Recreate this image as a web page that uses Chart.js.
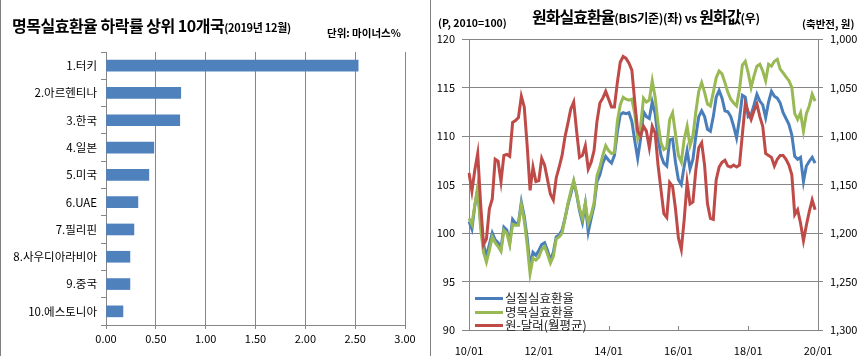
<!DOCTYPE html>
<html><head><meta charset="utf-8">
<script src="https://cdn.jsdelivr.net/npm/chart.js@4.4.1/dist/chart.umd.min.js"></script>
<style>
html,body{margin:0;padding:0;background:#fff;}
body{width:867px;height:356px;position:relative;overflow:hidden;font-family:"Noto Sans CJK KR","Noto Sans",sans-serif;color:#000;}
.abs{position:absolute;white-space:nowrap;}
.big{font-size:16px;font-weight:bold;letter-spacing:-1px;}
.sm{font-size:11px;font-weight:bold;letter-spacing:-0.3px;}
.lg{position:absolute;left:475px;font-size:12.5px;line-height:13px;white-space:nowrap;color:#222;}
.lg i{display:inline-block;width:28px;height:3px;vertical-align:middle;margin-right:2px;position:relative;top:-1px;}
</style></head><body>
<div class="abs" style="left:0;top:0;width:1px;height:356px;background:#808080"></div>
<div class="abs" style="left:430px;top:0;width:1px;height:356px;background:#808080"></div>
<canvas id="left" width="430" height="356" style="position:absolute;left:0;top:0"></canvas>
<canvas id="right" width="435" height="356" style="position:absolute;left:432px;top:0"></canvas>

<div class="abs big" style="left:12px;top:14px;line-height:22px;letter-spacing:-0.5px;">명목실효환율 하락률 상위 10개국<span class="sm">(2019년 12월)</span></div>
<div class="abs" style="left:327px;top:26px;font-size:10.5px;font-weight:bold;line-height:14px;">단위: 마이너스%</div>

<div class="abs big" style="left:532px;top:5px;line-height:22px;">원화실효환율<span class="sm" style="font-size:12px">(BIS기준)(좌) vs </span>원화값<span class="sm" style="font-size:12px">(우)</span></div>
<div class="abs" style="left:438px;top:16px;font-size:10.5px;font-weight:bold;line-height:14px;">(P, 2010=100)</div>
<div class="abs" style="left:802px;top:17px;font-size:10.5px;font-weight:bold;line-height:14px;">(축반전, 원)</div>

<div class="lg" style="top:291px"><i style="background:#4A7EBB"></i>실질실효환율</div>
<div class="lg" style="top:304.5px"><i style="background:#98B954"></i>명목실효환율</div>
<div class="lg" style="top:318px"><i style="background:#BE4B48"></i>원-달러(월평균)</div>

<script>
// ---- Left chart data ----
const countries = ['1.터키','2.아르헨티나','3.한국','4.일본','5.미국','6.UAE','7.필리핀','8.사우디아라비아','9.중국','10.에스토니아'];
const declineRates = [2.53, 0.75, 0.74, 0.48, 0.43, 0.32, 0.28, 0.24, 0.24, 0.17];
const rateTicks = [0, 0.5, 1, 1.5, 2, 2.5, 3];

// ---- Right chart data (monthly 2010/01 - 2019/12) ----
const xTickLabels = ['10/01','12/01','14/01','16/01','18/01','20/01'];
const realEER = [
101.2,100.4,102.8,104.5,101.0,98.8,97.6,98.8,100.0,99.3,99.0,98.4,
100.6,100.3,99.0,101.4,101.0,101.0,103.2,101.7,99.5,96.5,98.0,97.7,
98.2,98.8,99.0,98.2,97.2,98.0,99.6,99.8,100.3,101.5,102.9,104.0,
105.3,104.0,102.3,101.1,103.0,100.1,101.5,102.8,105.3,106.0,107.2,107.9,
107.5,107.2,108.0,110.4,112.2,112.4,112.3,112.4,111.5,109.5,107.7,109.7,
112.5,112.0,111.8,113.5,112.3,109.8,108.0,107.2,106.9,109.6,109.7,107.3,
105.5,105.0,106.9,108.5,106.6,107.6,110.0,112.0,112.6,112.0,110.7,110.5,
112.0,114.0,114.7,113.9,112.6,112.5,112.0,111.0,109.8,111.8,114.2,114.0,
112.0,112.2,113.2,114.3,113.6,113.2,111.9,113.5,114.6,114.1,113.9,113.4,
112.4,111.8,111.2,110.1,107.9,107.6,107.8,105.3,106.9,107.4,107.8,107.2];
const nominalEER = [
101.5,100.9,102.9,104.8,100.5,98.0,97.0,98.2,99.6,99.0,98.6,98.1,
100.3,100.0,98.8,100.9,100.8,100.8,102.9,101.3,98.8,95.8,97.4,97.2,
97.5,98.3,98.6,97.8,96.9,97.6,99.4,99.6,100.0,101.5,103.0,104.3,
105.4,104.1,102.5,101.5,103.1,101.0,101.9,103.1,105.9,106.8,108.0,109.0,
108.5,108.2,108.3,111.5,113.2,114.0,113.8,113.7,113.8,112.3,109.8,111.0,
113.9,113.5,113.7,115.7,114.0,111.3,109.3,108.6,108.8,111.7,112.4,110.2,
108.0,107.3,109.7,111.0,109.0,110.0,112.5,114.6,115.5,114.5,113.3,113.1,
114.5,116.0,116.7,116.4,115.5,114.5,113.8,113.4,113.1,114.8,117.3,117.7,
116.5,115.0,116.2,117.2,117.4,116.7,115.7,117.4,117.2,117.7,117.9,116.9,
116.5,116.1,115.7,115.0,112.3,111.7,112.4,110.5,112.3,113.1,114.3,113.6];
const wonDollar = [
1138,1157,1135,1118,1170,1212,1206,1175,1165,1124,1126,1147,
1120,1119,1121,1086,1084,1081,1059,1070,1110,1156,1132,1147,
1146,1123,1130,1145,1160,1166,1143,1132,1120,1101,1087,1072,
1065,1095,1122,1120,1110,1134,1127,1115,1085,1066,1061,1054,
1062,1070,1070,1045,1024,1018,1020,1025,1032,1065,1095,1100,
1090,1095,1112,1090,1097,1130,1155,1180,1184,1148,1152,1175,
1205,1217,1186,1148,1170,1168,1135,1112,1107,1130,1170,1185,
1186,1145,1132,1127,1125,1131,1132,1130,1132,1130,1098,1067,
1075,1083,1074,1067,1080,1090,1118,1120,1122,1131,1124,1120,
1120,1124,1130,1140,1181,1176,1190,1208,1192,1178,1166,1176];

const monthLabels = [];
for (let y = 10; y <= 20; y++) {
  for (let m = 1; m <= 12; m++) {
    if (y === 20 && m > 1) break;
    monthLabels.push(String(y).padStart(2,'0') + '/' + String(m).padStart(2,'0'));
  }
}

const FONT = "'Noto Sans CJK KR','Noto Sans',sans-serif";
const GRID = '#868686';

new Chart(document.getElementById('left'), {
  type: 'bar',
  data: { labels: countries, datasets: [{ data: declineRates, backgroundColor: '#4F81BD', barThickness: 11 }] },
  options: {
    indexAxis: 'y', responsive: false, animation: false,
    layout: { padding: { left: 0, right: 25, top: 52, bottom: 0 } },
    plugins: { legend: { display: false }, tooltip: { enabled: false } },
    scales: {
      x: {
        min: 0, max: 3,
        afterBuildTicks(s) { s.ticks = rateTicks.map(v => ({ value: v })); },
        ticks: { callback: v => Number(v).toFixed(2), font: { family: FONT, size: 11 }, color: '#000', padding: 3, maxRotation: 0 },
        grid: { color: GRID, tickLength: 4 },
        border: { color: GRID },
        afterFit(s) { s.height = 31; s.paddingLeft = 0; s.paddingRight = 0; }
      },
      y: {
        ticks: { font: { family: FONT, size: 11.5 }, color: '#000', padding: 4 },
        grid: { drawOnChartArea: false, tickLength: 5, color: GRID, offset: true },
        border: { color: GRID },
        afterFit(s) { s.width = 106; s.paddingTop = 0; s.paddingBottom = 0; }
      }
    }
  }
});

const innerTicks = {
  id: 'innerTicks',
  afterDatasetsDraw(chart) {
    const xs = chart.scales.x, ctx = chart.ctx, bottom = chart.chartArea.bottom;
    ctx.save(); ctx.strokeStyle = GRID; ctx.lineWidth = 1;
    xTickLabels.forEach(l => {
      const px = Math.round(xs.getPixelForValue(monthLabels.indexOf(l))) + 0.5;
      ctx.beginPath(); ctx.moveTo(px, bottom); ctx.lineTo(px, bottom - 4); ctx.stroke();
    });
    ctx.restore();
  }
};

new Chart(document.getElementById('right'), {
  type: 'line',
  data: {
    labels: monthLabels,
    datasets: [
      { label: '실질실효환율', data: realEER, borderColor: '#4A7EBB', borderWidth: 3, pointRadius: 0, yAxisID: 'y', order: 3 },
      { label: '명목실효환율', data: nominalEER, borderColor: '#98B954', borderWidth: 3, pointRadius: 0, yAxisID: 'y', order: 2 },
      { label: '원-달러(월평균)', data: wonDollar, borderColor: '#BE4B48', borderWidth: 3, pointRadius: 0, yAxisID: 'y2', order: 1 }
    ]
  },
  options: {
    responsive: false, animation: false,
    layout: { padding: { left: 0, right: 0, top: 39, bottom: 0 } },
    plugins: { legend: { display: false }, tooltip: { enabled: false } },
    scales: {
      x: {
        type: 'category', offset: false,
        ticks: { autoSkip: false, maxRotation: 0, minRotation: 0, padding: 6,
          callback(v) { const l = monthLabels[v]; return xTickLabels.includes(l) ? l : null; },
          font: { family: FONT, size: 11 }, color: '#000' },
        grid: { display: false },
        border: { color: GRID },
        afterFit(s) { s.height = 26; s.paddingLeft = 0; s.paddingRight = 0; }
      },
      y: {
        position: 'left', min: 90, max: 120,
        ticks: { stepSize: 5, font: { family: FONT, size: 11 }, color: '#000', padding: 7 },
        grid: { color: GRID, tickLength: 7 },
        border: { color: GRID },
        afterFit(s) { s.width = 37; s.paddingTop = 0; s.paddingBottom = 0; }
      },
      y2: {
        position: 'right', min: 1000, max: 1300, reverse: true,
        ticks: { stepSize: 50, callback: v => Number(v).toLocaleString('en-US'), font: { family: FONT, size: 11 }, color: '#000', padding: 7 },
        grid: { drawOnChartArea: false, color: GRID, tickLength: 5 },
        border: { color: GRID },
        afterFit(s) { s.width = 49; s.paddingTop = 0; s.paddingBottom = 0; }
      }
    }
  },
  plugins: [innerTicks]
});
</script>
</body></html>
